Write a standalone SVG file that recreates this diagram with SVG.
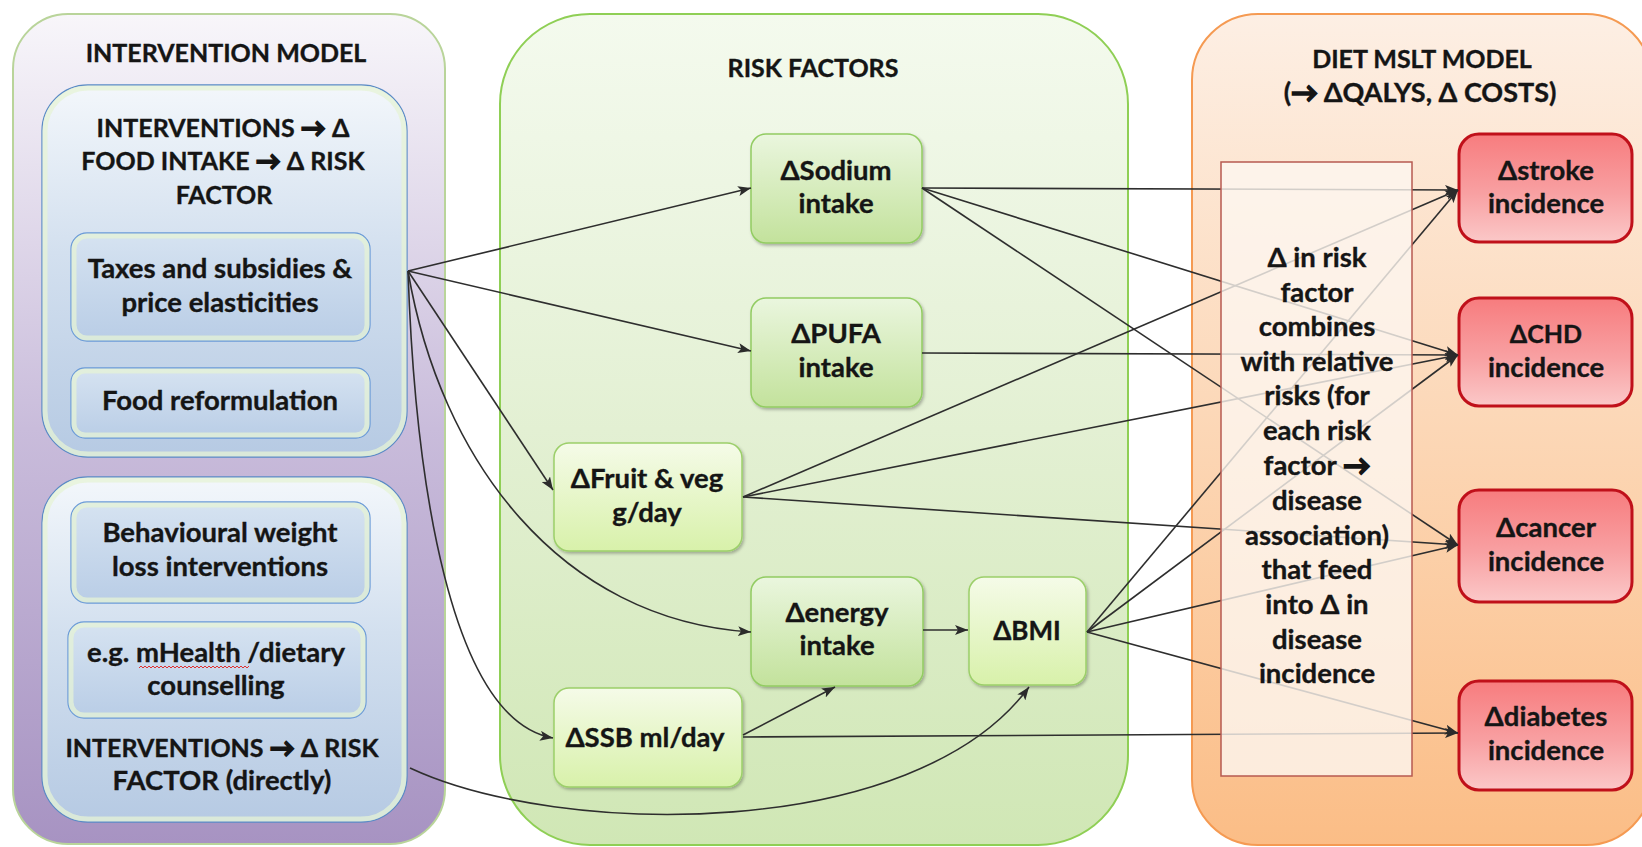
<svg xmlns="http://www.w3.org/2000/svg" width="1642" height="847" viewBox="0 0 1642 847">
<defs>
<linearGradient id="gPurple" x1="0" y1="0" x2="0" y2="1"><stop offset="0" stop-color="#f8f6fa"/><stop offset="0.5" stop-color="#c9bcdb"/><stop offset="1" stop-color="#a793c2"/></linearGradient>
<linearGradient id="gBlueBig" x1="0" y1="0" x2="0" y2="1"><stop offset="0" stop-color="#f3f7fb"/><stop offset="0.45" stop-color="#d3e0ef"/><stop offset="1" stop-color="#b6cae3"/></linearGradient>
<linearGradient id="gBlue" x1="0" y1="0" x2="0" y2="1"><stop offset="0" stop-color="#d6e3f1"/><stop offset="1" stop-color="#b9cde6"/></linearGradient>
<linearGradient id="gGreenBig" x1="0" y1="0" x2="0" y2="1"><stop offset="0" stop-color="#f4faee"/><stop offset="0.5" stop-color="#e3f0d3"/><stop offset="1" stop-color="#d0e7b5"/></linearGradient>
<linearGradient id="gNode" x1="0" y1="0" x2="0" y2="1"><stop offset="0" stop-color="#eaf6de"/><stop offset="1" stop-color="#c3e29c"/></linearGradient>
<linearGradient id="gNodeY" x1="0" y1="0" x2="0" y2="1"><stop offset="0" stop-color="#f5fbe8"/><stop offset="1" stop-color="#d8f1aa"/></linearGradient>
<linearGradient id="gOrange" x1="0" y1="0" x2="0" y2="1"><stop offset="0" stop-color="#fdefe4"/><stop offset="0.5" stop-color="#fcd7b6"/><stop offset="1" stop-color="#fbbd86"/></linearGradient>
<linearGradient id="gRed" x1="0" y1="0" x2="0" y2="1"><stop offset="0" stop-color="#f77c7e"/><stop offset="0.55" stop-color="#f8a0a2"/><stop offset="1" stop-color="#fbc8c8"/></linearGradient>
<filter id="sh" x="-10%" y="-10%" width="125%" height="130%"><feDropShadow dx="1.5" dy="2" stdDeviation="1.8" flood-color="#000" flood-opacity="0.28"/></filter>
<marker id="ah" markerUnits="userSpaceOnUse" markerWidth="14" markerHeight="10" refX="13" refY="5" orient="auto" viewBox="0 0 14 10"><path d="M0,0 L13,5 L0,10 L3,5 z" fill="#2b2b2b"/></marker>
<style>
text{font-family:Lato,"Open Sans","Liberation Sans",sans-serif;font-weight:700;font-size:27.5px;fill:#151515;stroke:#151515;stroke-width:0.35;text-anchor:middle}
.hd{font-size:25px}
.cap{font-size:25px}
.arr{stroke-width:1.6}
.outer-p{fill:url(#gPurple);stroke:#b9d49a;stroke-width:2}
.inner{fill:url(#gBlueBig);stroke:#5a8ac6;stroke-width:1.3}
.glowG{fill:none;stroke:#e6f3d6;stroke-width:5;opacity:0.75}
.small{fill:url(#gBlue);stroke:#6b9bd8;stroke-width:1.3}
.outer-g{fill:url(#gGreenBig);stroke:#8fcf55;stroke-width:2}
.rn{fill:url(#gNode);stroke:#92cc62;stroke-width:1.5;filter:url(#sh)}
.rny{fill:url(#gNodeY);stroke:#9ccf6a;stroke-width:1.5;filter:url(#sh)}
.outer-o{fill:url(#gOrange);stroke:#f59a52;stroke-width:2}
.dz{fill:url(#gRed);stroke:#c0101a;stroke-width:3}
.wbox{fill:#fdf6f0;fill-opacity:0.8;stroke:#b75a50;stroke-width:1.5}
.cn path{fill:none;stroke:#2e2e2e;stroke-width:1.6;marker-end:url(#ah)}
</style>
</defs>

<g id="intervention-model">
<rect class="outer-p" x="13" y="14" width="432" height="830" rx="55"/>
<text class="hd" x="226" y="62">INTERVENTION MODEL</text>
</g>

<g id="food-intake-group">
<rect class="inner" x="42" y="85" width="365" height="372" rx="46"/>
<rect class="glowG" x="45" y="88" width="359" height="366" rx="43"/>
<text class="cap" x="223" y="137">INTERVENTIONS <tspan class="arr">→</tspan> Δ</text>
<text class="cap" x="223" y="170">FOOD INTAKE <tspan class="arr">→</tspan> Δ RISK</text>
<text class="cap" x="224" y="204">FACTOR</text>
</g>

<g id="taxes">
<rect class="small" x="71" y="233" width="299" height="108" rx="16"/>
<rect class="glowG" x="74" y="236" width="293" height="102" rx="13"/>
<text x="220" y="278">Taxes and subsidies &amp;</text>
<text x="220" y="312">price elasticities</text>
</g>

<g id="reformulation">
<rect class="small" x="71" y="368" width="299" height="70" rx="14"/>
<rect class="glowG" x="74" y="371" width="293" height="64" rx="11"/>
<text x="220" y="410">Food reformulation</text>
</g>

<g id="direct-group">
<rect class="inner" x="42" y="477" width="365" height="345" rx="46"/>
<rect class="glowG" x="45" y="480" width="359" height="339" rx="43"/>
<text class="cap" x="222" y="757">INTERVENTIONS <tspan class="arr">→</tspan> Δ RISK</text>
<text x="222" y="790">FACTOR (directly)</text>
</g>

<g id="behavioural">
<rect class="small" x="71" y="502" width="299" height="101" rx="16"/>
<rect class="glowG" x="74" y="505" width="293" height="95" rx="13"/>
<text x="220" y="542">Behavioural weight</text>
<text x="220" y="576">loss interventions</text>
</g>

<g id="mhealth">
<rect class="small" x="68" y="622" width="298" height="96" rx="16"/>
<rect class="glowG" x="71" y="625" width="292" height="90" rx="13"/>
<text x="216" y="662">e.g. mHealth /dietary</text>
<text x="216" y="695">counselling</text>
<path d="M139,668 l2,-2 l2,2 l2,-2 l2,2 l2,-2 l2,2 l2,-2 l2,2 l2,-2 l2,2 l2,-2 l2,2 l2,-2 l2,2 l2,-2 l2,2 l2,-2 l2,2 l2,-2 l2,2 l2,-2 l2,2 l2,-2 l2,2 l2,-2 l2,2 l2,-2 l2,2 l2,-2 l2,2 l2,-2 l2,2 l2,-2 l2,2 l2,-2 l2,2 l2,-2 l2,2 l2,-2 l2,2 l2,-2 l2,2 l2,-2 l2,2 l2,-2 l2,2 l2,-2 l2,2 l2,-2 l2,2 l2,-2 l2,2 l2,-2 l2,2 l2,-2" fill="none" stroke="#e03030" stroke-width="1"/>
</g>

<g id="risk-factors">
<rect class="outer-g" x="500" y="14" width="628" height="831" rx="90"/>
<text class="hd" x="813" y="77">RISK FACTORS</text>
</g>

<g id="sodium">
<rect class="rn" x="751" y="134" width="171" height="109" rx="15"/>
<text x="836" y="180">ΔSodium</text>
<text x="836" y="213">intake</text>
</g>

<g id="pufa">
<rect class="rn" x="751" y="298" width="171" height="109" rx="15"/>
<text x="836" y="343">ΔPUFA</text>
<text x="836" y="377">intake</text>
</g>

<g id="fruit-veg">
<rect class="rny" x="554" y="443" width="188" height="108" rx="15"/>
<text x="647" y="488">ΔFruit &amp; veg</text>
<text x="647" y="522">g/day</text>
</g>

<g id="energy">
<rect class="rn" x="751" y="577" width="172" height="109" rx="15"/>
<text x="837" y="622">Δenergy</text>
<text x="837" y="655">intake</text>
</g>

<g id="bmi">
<rect class="rny" x="969" y="577" width="117" height="108" rx="15"/>
<text x="1027" y="640" style="font-size:26px">ΔBMI</text>
</g>

<g id="ssb">
<rect class="rny" x="554" y="688" width="188" height="99" rx="15"/>
<text x="645" y="747">ΔSSB ml/day</text>
</g>

<g id="diet-mslt">
<rect class="outer-o" x="1192" y="14" width="460" height="831" rx="66"/>
<text class="hd" x="1422" y="68">DIET MSLT MODEL</text>
<text x="1420" y="102" style="font-size:27px">(<tspan class="arr">→</tspan> ΔQALYS, Δ COSTS)</text>
</g>

<g id="stroke">
<rect class="dz" x="1459" y="134" width="173" height="108" rx="20"/>
<text x="1546" y="180">Δstroke</text>
<text x="1546" y="213">incidence</text>
</g>

<g id="chd">
<rect class="dz" x="1459" y="298" width="173" height="108" rx="20"/>
<text class="cap" x="1546" y="343">ΔCHD</text>
<text x="1546" y="377">incidence</text>
</g>

<g id="cancer">
<rect class="dz" x="1459" y="490" width="173" height="112" rx="20"/>
<text x="1546" y="537">Δcancer</text>
<text x="1546" y="571">incidence</text>
</g>

<g id="diabetes">
<rect class="dz" x="1459" y="681" width="173" height="109" rx="20"/>
<text x="1546" y="726">Δdiabetes</text>
<text x="1546" y="760">incidence</text>
</g>

<g id="connectors" class="cn">
<path d="M408,271 L751,188"/>
<path d="M408,271 L751,351"/>
<path d="M408,271 L553,490"/>
<path d="M408,271 C440,460 560,620 751,632"/>
<path d="M408,271 C415,480 450,720 553,738"/>
<path d="M410,768 C560,838 915,842 1029,687"/>
<path d="M743,735 L835,687"/>
<path d="M743,737 L1458,733"/>
<path d="M923,630 L968,630"/>
<path d="M922,188 L1458,190"/>
<path d="M922,188 L1458,355"/>
<path d="M922,188 L1458,545"/>
<path d="M922,353 L1458,355"/>
<path d="M743,497 L1458,190"/>
<path d="M743,497 L1458,355"/>
<path d="M743,497 L1458,545"/>
<path d="M1087,632 L1458,190"/>
<path d="M1087,632 L1458,355"/>
<path d="M1087,632 L1458,545"/>
<path d="M1087,632 L1458,733"/>
</g>

<g id="rr-combination">
<rect class="wbox" x="1221" y="162" width="191" height="614"/>
<text x="1317" y="267">Δ in risk</text>
<text x="1317" y="302">factor</text>
<text x="1317" y="336">combines</text>
<text x="1317" y="371">with relative</text>
<text x="1317" y="405">risks (for</text>
<text x="1317" y="440">each risk</text>
<text x="1317" y="475">factor <tspan class="arr">→</tspan></text>
<text x="1317" y="510">disease</text>
<text x="1317" y="545">association)</text>
<text x="1317" y="579">that feed</text>
<text x="1317" y="614">into Δ in</text>
<text x="1317" y="649">disease</text>
<text x="1317" y="683">incidence</text>
</g>
</svg>
